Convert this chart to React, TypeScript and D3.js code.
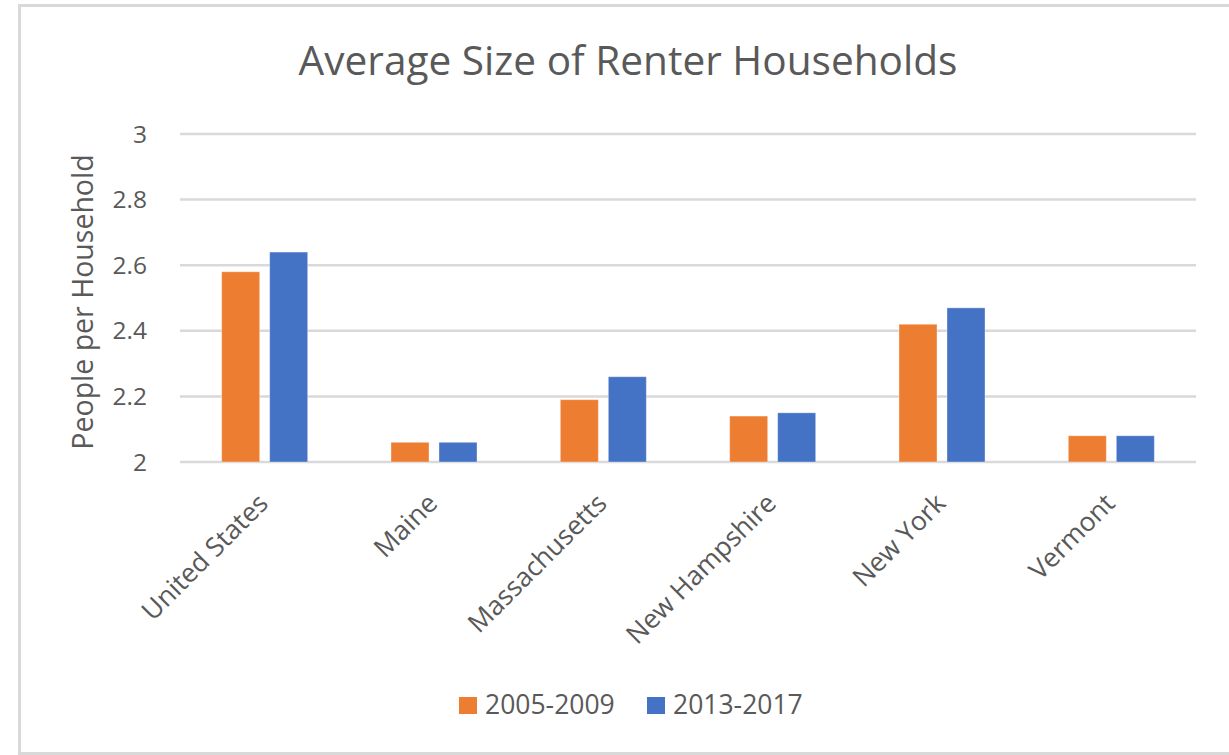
import React from "react";
import * as d3 from "d3";

const categories = ["United States", "Maine", "Massachusetts", "New Hampshire", "New York", "Vermont"];
const seriesNames = ["2005-2009", "2013-2017"];
const values2005_2009 = [2.58, 2.06, 2.19, 2.14, 2.42, 2.08];
const values2013_2017 = [2.64, 2.06, 2.26, 2.15, 2.47, 2.08];
const yTicks = [2, 2.2, 2.4, 2.6, 2.8, 3];
const colors = ["#ED7D31", "#4472C4"];

const W = 1229;
const H = 755;
const FONT = "'Open Sans', 'Noto Sans', sans-serif";
const TEXT = "#595959";
const GRID = "#d9d9d9";

export default function App() {
  const x0 = d3.scaleBand<string>().domain(categories).range([180, 1196]).paddingInner(0).paddingOuter(0);
  const x1 = d3
    .scaleBand<string>()
    .domain(seriesNames)
    .range([0, x0.bandwidth()])
    .paddingInner(0.2083)
    .paddingOuter(0.868);
  const y = d3.scaleLinear().domain([2, 3]).range([462, 134]);
  const series = [values2005_2009, values2013_2017];
  const fmt = (v: number) => (Number.isInteger(v) ? String(v) : v.toFixed(1));

  return (
    <div style={{ position: "absolute", left: 0, top: 0 }}>
      <svg width={W} height={H} style={{ display: "block", background: "#fff" }}>
        <rect x={19.5} y={5.5} width={1230} height={748} fill="#fff" stroke={GRID} strokeWidth={3} />
        <text x={628} y={75} textAnchor="middle" fontFamily={FONT} fontSize={40.6} fill={TEXT}>
          Average Size of Renter Households
        </text>
        {yTicks.map((t) => (
          <g key={t}>
            <line x1={180} x2={1196} y1={y(t)} y2={y(t)} stroke={GRID} strokeWidth={2.5} />
            <text x={147} y={y(t)} dy="0.35em" textAnchor="end" fontFamily={FONT} fontSize={24.5} fill={TEXT}>
              {fmt(t)}
            </text>
          </g>
        ))}
        <text
          transform={`translate(93,${302}) rotate(-90)`}
          textAnchor="middle"
          fontFamily={FONT}
          fontSize={28.5}
          fill={TEXT}
        >
          People per Household
        </text>
        {categories.map((c, i) => (
          <g key={c} transform={`translate(${x0(c)},0)`}>
            {seriesNames.map((s, j) => (
              <rect
                key={s}
                x={x1(s)}
                y={y(series[j][i])}
                width={x1.bandwidth()}
                height={y(2) - y(series[j][i])}
                fill={colors[j]}
                stroke="#ffffff"
                strokeOpacity={0.35}
                strokeWidth={1}
              />
            ))}
          </g>
        ))}
        {categories.map((c) => {
          const cx = (x0(c) as number) + x0.bandwidth() / 2;
          return (
            <text
              key={c}
              transform={`translate(${cx + 5},${505}) rotate(-45)`}
              textAnchor="end"
              fontFamily={FONT}
              fontSize={26.5}
              fill={TEXT}
            >
              {c}
            </text>
          );
        })}
        {seriesNames.map((s, j) => {
          const lx = [459, 647][j];
          return (
            <g key={s}>
              <rect x={lx} y={697} width={18} height={17} fill={colors[j]} />
              <text x={lx + 26} y={714} fontFamily={FONT} fontSize={26.5} fill={TEXT}>
                {s}
              </text>
            </g>
          );
        })}
      </svg>
    </div>
  );
}
